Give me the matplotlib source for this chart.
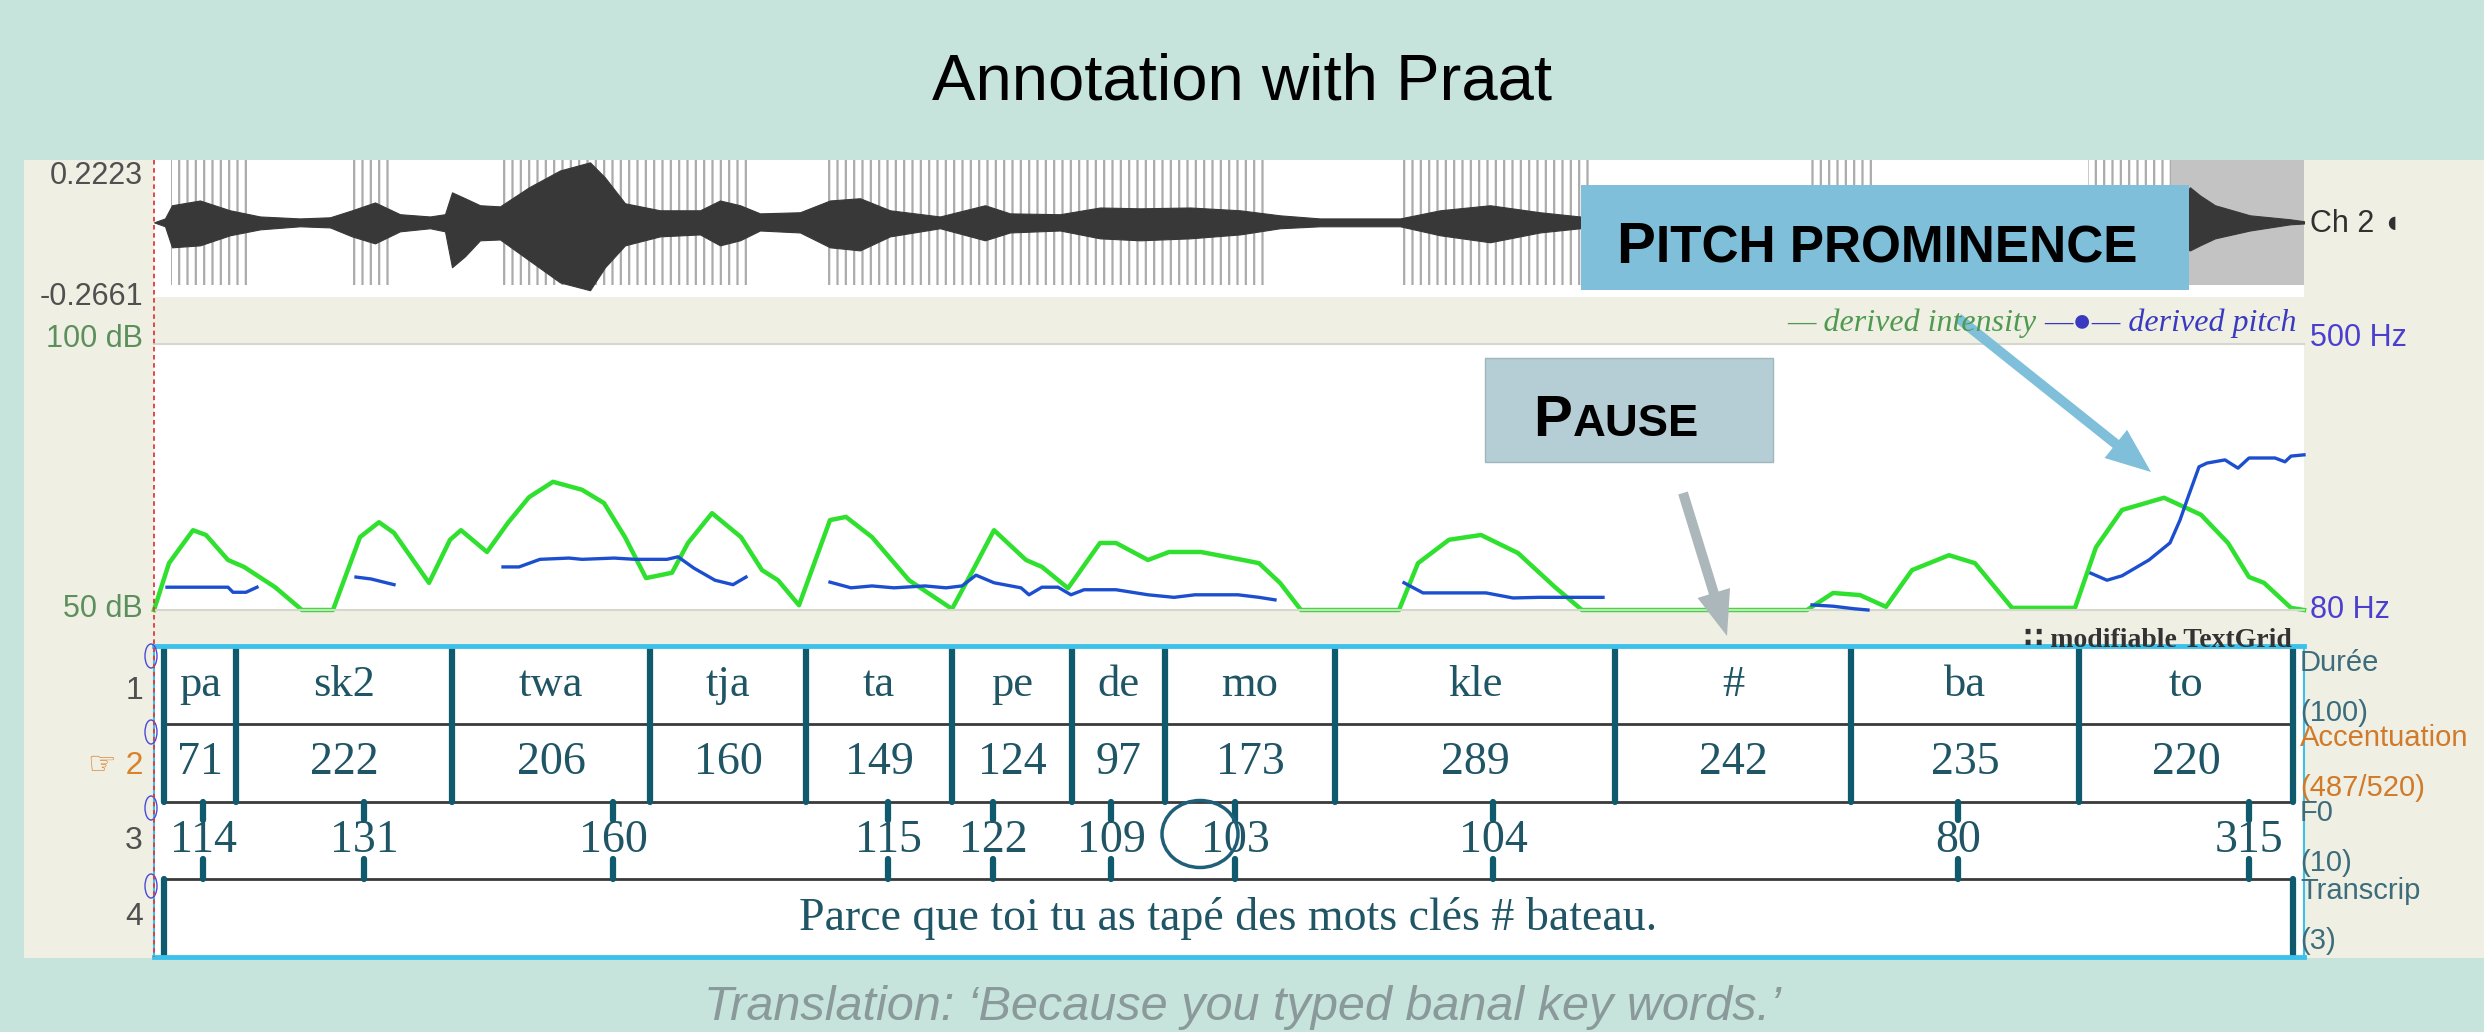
import numpy as np
import matplotlib.pyplot as plt
from matplotlib import font_manager
from matplotlib.patches import Rectangle, Ellipse, FancyArrow

W, H = 2484, 1032
T_END = 2.15  # seconds shown in the Praat window

# waveform envelope (Ch 2)
wave_t = [0.000, 0.011, 0.018, 0.046, 0.076, 0.106, 0.146, 0.176, 0.198, 0.221,
          0.246, 0.276, 0.291, 0.298, 0.311, 0.326, 0.346, 0.375, 0.406, 0.436,
          0.451, 0.471, 0.506, 0.546, 0.566, 0.586, 0.606, 0.646, 0.676, 0.706,
          0.736, 0.786, 0.831, 0.856, 0.906, 0.946, 0.986, 1.036, 1.086, 1.126,
          1.166, 1.246, 1.286, 1.336, 1.386, 1.426, 1.546, 1.696, 1.996, 2.021,
          2.036, 2.046, 2.061, 2.096, 2.136, 2.150]
wave_hi = [0, .014, .061, .078, .043, .021, .014, .018, .043, .071,
           .029, .021, .029, .107, .086, .061, .057, .125, .185, .214,
           .160, .068, .043, .043, .078, .061, .032, .036, .078, .086,
           .043, .021, .061, .032, .029, .053, .050, .053, .043, .025,
           .014, .014, .043, .061, .036, .021, .018, .014, .021, .061,
           .125, .096, .061, .025, .011, .004]
wave_lo = [0, -.014, -.089, -.082, -.046, -.025, -.014, -.018, -.050, -.075,
           -.032, -.021, -.032, -.160, -.121, -.064, -.061, -.135, -.214, -.242,
           -.160, -.082, -.050, -.043, -.082, -.064, -.029, -.036, -.089, -.100,
           -.050, -.021, -.064, -.036, -.029, -.057, -.064, -.057, -.043, -.021,
           -.014, -.014, -.046, -.071, -.036, -.021, -.018, -.014, -.025, -.082,
           -.100, -.082, -.057, -.029, -.007, -.004]
wave_range = (-0.2661, 0.2223)

# voiced stretches (pulses)
pulse_spans = [(0.017, 0.095), (0.198, 0.239), (0.349, 0.595), (0.673, 1.113),
               (1.248, 1.436), (1.654, 1.724), (1.934, 2.017)]
dense_span = (2.017, 2.150)

# derived intensity (dB)
int_t = [0.000, 0.015, 0.039, 0.052, 0.074, 0.090, 0.121, 0.148, 0.179, 0.206,
         0.225, 0.240, 0.275, 0.296, 0.307, 0.333, 0.354, 0.375, 0.399, 0.428,
         0.450, 0.471, 0.492, 0.518, 0.534, 0.558, 0.587, 0.608, 0.624, 0.645,
         0.676, 0.692, 0.718, 0.755, 0.798, 0.819, 0.840, 0.872, 0.888, 0.914,
         0.946, 0.962, 0.994, 1.015, 1.047, 1.089, 1.105, 1.126, 1.147, 1.245,
         1.264, 1.295, 1.327, 1.364, 1.401, 1.428, 1.653, 1.679, 1.706, 1.732,
         1.758, 1.795, 1.821, 1.858, 1.921, 1.942, 1.968, 2.010, 2.047, 2.074,
         2.095, 2.110, 2.137, 2.150]
int_db = [50.0, 58.8, 65.0, 64.1, 59.4, 58.1, 54.3, 50.0, 50.0, 63.7,
          66.5, 64.5, 55.1, 63.2, 65.0, 60.9, 66.4, 71.2, 74.1, 72.6,
          70.1, 63.7, 56.0, 57.0, 62.6, 68.2, 63.7, 57.5, 55.6, 50.9,
          66.9, 67.5, 63.7, 55.6, 50.2, 57.5, 65.0, 59.4, 58.1, 54.1,
          62.6, 62.6, 59.4, 60.9, 60.9, 59.4, 58.8, 55.1, 50.0, 50.0,
          58.8, 63.2, 64.1, 60.7, 54.3, 50.0, 50.0, 53.2, 52.8, 50.6,
          57.5, 60.3, 58.8, 50.4, 50.4, 61.8, 68.8, 71.1, 67.9, 62.6,
          56.2, 55.1, 50.4, 50.0]

# derived pitch (Hz), one list per voiced stretch
pitch_t = [
    [0.013, 0.074, 0.079, 0.092, 0.103],
    [0.202, 0.217, 0.240],
    [0.349, 0.365, 0.386, 0.415, 0.428, 0.460, 0.481, 0.513, 0.524, 0.540, 0.561, 0.579, 0.592],
    [0.676, 0.697, 0.718, 0.740, 0.771, 0.792, 0.808, 0.822, 0.840, 0.867, 0.875,
     0.888, 0.904, 0.917, 0.930, 0.962, 0.994, 1.020, 1.041, 1.084, 1.105, 1.121],
    [1.250, 1.269, 1.332, 1.359, 1.385, 1.449],
    [1.658, 1.679, 1.700, 1.714],
    [1.937, 1.953, 1.968, 1.995, 2.016, 2.026, 2.034, 2.045, 2.053, 2.071, 2.084,
     2.095, 2.121, 2.131, 2.137, 2.150],
]
pitch_hz = [
    [116, 116, 108, 108, 116],
    [132, 129, 120],
    [148, 148, 160, 162, 160, 162, 160, 160, 164, 146, 127, 120, 132],
    [124, 115, 118, 115, 118, 115, 118, 135, 123, 115, 104,
     116, 116, 104, 112, 112, 104, 100, 104, 104, 100, 96],
    [123, 107, 107, 99, 100, 100],
    [88, 86, 82, 80],
    [138, 127, 134, 159, 186, 222, 258, 306, 312, 317, 304, 320, 320, 314, 323, 325],
]

# TextGrid
syll_bounds = [0.010, 0.082, 0.298, 0.496, 0.652, 0.798, 0.918, 1.011, 1.181,
               1.461, 1.697, 1.925, 2.139]
syllables = ['pa', 'sk2', 'twa', 'tja', 'ta', 'pe', 'de', 'mo', 'kle', '#', 'ba', 'to']
accent = ['71', '222', '206', '160', '149', '124', '97', '173', '289', '242', '235', '220']
f0_t = [0.049, 0.210, 0.459, 0.734, 0.839, 0.957, 1.081, 1.339, 1.804, 2.095]
f0_labels = ['114', '131', '160', '115', '122', '109', '103', '104', '80', '315']
transcription = 'Parce que toi tu as tapé des mots clés # bateau.'
tier_names = ['Durée', 'Accentuation', 'F0', 'Transcrip']
tier_counts = ['(100)', '(487/520)', '(10)', '(3)']

plt.rcParams['font.family'] = ['Liberation Sans', 'DejaVu Sans']
plt.rcParams['hatch.linewidth'] = 1.6

installed = {f.name for f in font_manager.fontManager.ttflist}
if 'Liberation Sans Narrow' in installed:
    BOX_FONT, BOX_K = ['Liberation Sans Narrow', 'DejaVu Sans'], 1.0
else:
    BOX_FONT, BOX_K = ['Liberation Sans', 'DejaVu Sans'], 0.84
SERIF = ['Liberation Serif', 'DejaVu Serif', 'DejaVu Sans']
TG_COL = '#1f5564'
BAR_COL = '#0f5a6d'

fig = plt.figure(figsize=(W / 100, H / 100), dpi=100, facecolor='#c6e3dc')


def px_axes(x0, y0, x1, y1, **kw):
    return fig.add_axes([x0 / W, 1 - y1 / H, (x1 - x0) / W, (y1 - y0) / H], **kw)


def bare(ax):
    ax.set_xticks([])
    ax.set_yticks([])
    for s in ax.spines.values():
        s.set_visible(False)


# beige Praat window
bg = px_axes(0, 0, W, H)
bg.set_xlim(0, W)
bg.set_ylim(H, 0)
bg.axis('off')
bg.add_patch(Rectangle((24, 160), W - 24, 798, fc='#efefe3', ec='none'))

# waveform
wav = px_axes(154, 160, 2304, 297, facecolor='white')
bare(wav)
wav.set_xlim(0, T_END)
wav.set_ylim(*wave_range)
for a, b in pulse_spans:
    wav.axvspan(a, b, ymin=0.088, facecolor='none', edgecolor='#ababab', hatch='||', lw=0)
wav.axvspan(*dense_span, ymin=0.088, color='#c3c3c3', lw=0)
wav.fill_between(wave_t, wave_lo, wave_hi, color='#383838', lw=0.8)

# intensity + pitch
iax = px_axes(154, 344, 2304, 610, facecolor='white')
bare(iax)
for side in ('top', 'bottom'):
    iax.spines[side].set_visible(True)
    iax.spines[side].set_color('#d6d6cc')
    iax.spines[side].set_linewidth(1.5)
iax.set_xlim(0, T_END)
iax.set_ylim(50, 100)
iax.plot(int_t, int_db, color='#2fe02f', lw=3.2, clip_on=False, solid_joinstyle='round')
pax = iax.twinx()
bare(pax)
pax.set_ylim(80, 500)
for ts, hz in zip(pitch_t, pitch_hz):
    pax.plot(ts, hz, color='#1c4fcf', lw=2.4, clip_on=False)

# TextGrid
tg = px_axes(154, 646, 2304, 957, facecolor='white')
bare(tg)
for side, lw in (('top', 3.5), ('bottom', 3.5), ('left', 1.5), ('right', 1.5)):
    tg.spines[side].set_visible(True)
    tg.spines[side].set_color('#3cc2ea')
    tg.spines[side].set_linewidth(lw)
tg.set_xlim(0, T_END)
tg.set_ylim(4, 0)
tg.hlines([1, 2, 3], syll_bounds[0], syll_bounds[-1], color='#3a3a3a', lw=2)
for lc in (tg.vlines(syll_bounds, 0.02, 2, color=BAR_COL, lw=4.5),
           tg.vlines([syll_bounds[0], syll_bounds[-1]], 3, 3.98, color=BAR_COL, lw=4.5),
           tg.vlines(f0_t, 2, 2.24, color=BAR_COL, lw=4.5),
           tg.vlines(f0_t, 2.74, 3, color=BAR_COL, lw=4.5)):
    lc.set_capstyle('round')
mids = (np.array(syll_bounds[:-1]) + np.array(syll_bounds[1:])) / 2
for m, s, a in zip(mids, syllables, accent):
    tg.text(m, 0.5, s, ha='center', va='center', fontsize=32, family=SERIF, color=TG_COL)
    tg.text(m, 1.5, a, ha='center', va='center', fontsize=33, family=SERIF, color=TG_COL)
for t, lab in zip(f0_t, f0_labels):
    tg.text(t, 2.5, lab, ha='center', va='center', fontsize=33, family=SERIF, color=TG_COL)
tg.text((syll_bounds[0] + syll_bounds[-1]) / 2, 3.5, transcription, ha='center',
        va='center', fontsize=33, family=SERIF, color=TG_COL)

# overlay: labels, call-outs
top = px_axes(0, 0, W, H)
top.set_xlim(0, W)
top.set_ylim(H, 0)
top.axis('off')
top.set_zorder(10)

top.plot([154, 154], [160, 957], color='#dd3b3b', lw=1.3, ls=(0, (2.5, 2)))
for y in (656, 732, 808, 886):
    top.add_patch(Ellipse((151, y), 12, 24, fill=False, ec='#4a4ad8', lw=1))

ui = dict(fontsize=22, va='center')
top.text(143, 176, '0.2223', ha='right', color='#505050', **ui)
top.text(143, 297, '-0.2661', ha='right', color='#505050', **ui)
top.text(143, 339, '100 dB', ha='right', color='#5b8f5b', **ui)
top.text(143, 609, '50 dB', ha='right', color='#5b8f5b', **ui)
top.text(2310, 338, '500 Hz', ha='left', color='#4b3fcf', **ui)
top.text(2310, 610, '80 Hz', ha='left', color='#4b3fcf', **ui)
top.text(2310, 224, 'Ch 2 \u25d6', ha='left', color='#303030', **ui)

top.text(2036, 331, '\u2014 derived intensity', ha='right', va='baseline', fontsize=23,
         style='italic', family=SERIF, color='#4f9a4f')
top.text(2297, 331, '\u2014\u25cf\u2014 derived pitch', ha='right', va='baseline', fontsize=23,
         style='italic', family=SERIF, color='#3a3ac0')
top.text(2292, 647, '\u2237 modifiable TextGrid', ha='right', va='baseline', fontsize=20,
         fontweight='bold', family=SERIF, color='#333333')

for y, s, c in ((691, '1', '#505050'), (766, '\u261e 2', '#d8822c'),
                (841, '3', '#505050'), (917, '4', '#505050')):
    top.text(143, y, s, ha='right', color=c, fontsize=23, va='center')

name_cols = ['#3d6d7c', '#d07a2a', '#3d6d7c', '#3d6d7c']
for y, name, cnt, c in zip((663, 738, 813, 891), tier_names, tier_counts, name_cols):
    top.text(2300, y, name, ha='left', va='center', fontsize=21, color=c)
    top.text(2300, y + 50, cnt, ha='left', va='center', fontsize=21, color=c)

top.add_patch(Ellipse((1200, 834), 76, 67, fill=False, ec='#1f5f78', lw=2.5))


def small_caps(x, y, first, rest, big, small):
    t = top.text(x, y, first, fontsize=big, fontweight='bold', family=BOX_FONT,
                 va='baseline', ha='left', color='black')
    top.annotate(rest, xy=(1, 0), xycoords=t, xytext=(1, 0.21 * (big - small)),
                 textcoords='offset points', va='bottom', ha='left', fontsize=small,
                 fontweight='bold', family=BOX_FONT, color='black')


top.add_patch(Rectangle((1581, 185), 608, 105, fc='#7fbfda', ec='none'))
small_caps(1616, 263, 'P', 'ITCH PROMINENCE', 50 * BOX_K, 44 * BOX_K)
top.add_patch(Rectangle((1485, 358), 288, 104, fc='#b5cdd4', ec='#9fb6bc', lw=1))
small_caps(1533, 436, 'P', 'AUSE', 50 * BOX_K, 39 * BOX_K)

top.add_patch(FancyArrow(1683, 493, 44, 143, width=10, head_width=34, head_length=45,
                         length_includes_head=True, color='#abb7ba', lw=0))
top.add_patch(FancyArrow(1958, 318, 193, 154, width=10, head_width=36, head_length=45,
                         length_includes_head=True, color='#7fbfda', lw=0))

fig.text(0.5, 1 - 99 / H, 'Annotation with Praat', ha='center', va='baseline',
         fontsize=47, color='black')
fig.text(0.5, 1 - 1020 / H, 'Translation: \u2018Because you typed banal key words.\u2019',
         ha='center', va='baseline', fontsize=35, style='italic', color='#8a9999')

fig.savefig('out.png', dpi=100, facecolor=fig.get_facecolor())
